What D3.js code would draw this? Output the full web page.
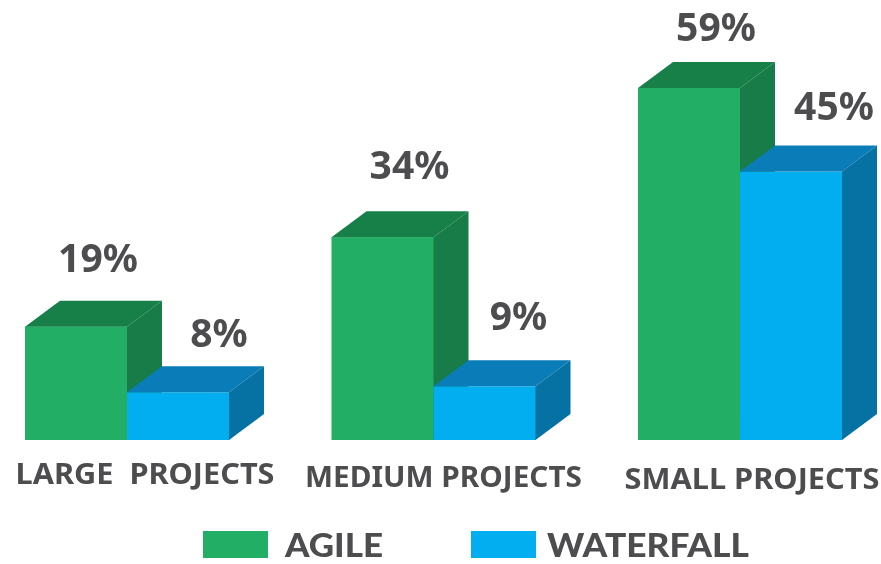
<!DOCTYPE html>
<html>
<head>
<meta charset="utf-8">
<script src="https://cdnjs.cloudflare.com/ajax/libs/d3/7.8.5/d3.min.js"></script>
<style>
    html, body { margin: 0; padding: 0; background: #fff; overflow: hidden; }
    svg { display: block; filter: blur(0.7px); }
    text { font-family: "Noto Sans", sans-serif; font-weight: 700; fill: #4d4d4f; }
</style>
</head>
<body>
<div id="chart"></div>
<script>
const categories = ["LARGE  PROJECTS", "MEDIUM PROJECTS", "SMALL PROJECTS"];
const seriesNames = ["AGILE", "WATERFALL"];
const agile = [19, 34, 59];
const waterfall = [8, 9, 45];

const width = 881, height = 564;
const baseline = 440;
const depth = { x: 35, y: 26 };

const colors = {
    AGILE: { front: "#22ae64", top: "#178048", side: "#177c47" },
    WATERFALL: { front: "#02aeef", top: "#0a7db9", side: "#0671a3" }
};

// hand nudges, the labels in the picture are not evenly placed
const catNudge = [[18, 32], [10, 35], [12, 37]];
const catWidth = [259, 277, 255];
const valNudge = {
    AGILE: [[22, -70], [27, -74], [27, -63]],
    WATERFALL: [[41, -61], [34, -72], [43, -67]]
};

const svg = d3.select("#chart").append("svg")
    .attr("width", width)
    .attr("height", height)
    .attr("viewBox", [0, 0, width, height]);

const x = d3.scaleBand()
    .domain(categories)
    .range([25, 842])
    .paddingInner(0.3344);

const xInner = d3.scaleBand()
    .domain(seriesNames)
    .range([0, x.bandwidth()]);

const y = d3.scaleLinear()
    .domain([0, 59])
    .range([baseline, 88]);

const rows = categories.flatMap((c, i) => [
    { cat: c, i: i, name: "AGILE", value: agile[i] },
    { cat: c, i: i, name: "WATERFALL", value: waterfall[i] }
]);

const barX = d => x(d.cat) + xInner(d.name);
const bw = xInner.bandwidth();

const bars = svg.append("g").selectAll("g")
    .data(rows)
    .join("g");

bars.append("rect")
    .attr("x", barX)
    .attr("y", d => y(d.value))
    .attr("width", bw + 0.5)
    .attr("height", d => baseline - y(d.value))
    .attr("fill", d => colors[d.name].front);

// top face
bars.append("path")
    .attr("fill", d => colors[d.name].top)
    .attr("d", d => {
        const x0 = barX(d), y0 = y(d.value);
        return d3.line()([
            [x0, y0], [x0 + depth.x, y0 - depth.y],
            [x0 + bw + depth.x, y0 - depth.y], [x0 + bw, y0]
        ]) + "Z";
    });

// side face
bars.append("path")
    .attr("fill", d => colors[d.name].side)
    .attr("d", d => {
        const x1 = barX(d) + bw, y0 = y(d.value);
        return d3.line()([
            [x1, y0], [x1 + depth.x, y0 - depth.y],
            [x1 + depth.x, baseline - depth.y], [x1, baseline]
        ]) + "Z";
    });

bars.append("text")
    .attr("text-anchor", "middle")
    .attr("dominant-baseline", "central")
    .attr("font-size", 39)
    .attr("x", d => barX(d) + bw / 2 + valNudge[d.name][d.i][0])
    .attr("y", d => y(d.value) + valNudge[d.name][d.i][1])
    .text(d => d.value + "%");

svg.append("g").selectAll("text")
    .data(categories)
    .join("text")
    .attr("text-anchor", "middle")
    .attr("dominant-baseline", "central")
    .style("white-space", "pre")
    .attr("font-size", 29)
    .attr("textLength", (d, i) => catWidth[i])
    .attr("lengthAdjust", "spacingAndGlyphs")
    .attr("x", (d, i) => x(d) + x.bandwidth() / 2 + catNudge[i][0])
    .attr("y", (d, i) => baseline + catNudge[i][1])
    .text(d => d);

// legend
const legendX = d3.scaleOrdinal().domain(seriesNames).range([203, 471]);
const legendTextX = [82, 76];
const legendTextW = [98, 202];
const legend = svg.append("g").selectAll("g")
    .data(seriesNames)
    .join("g")
    .attr("transform", d => `translate(${legendX(d)},531)`);

legend.append("rect")
    .attr("width", 65)
    .attr("height", 27)
    .attr("fill", d => colors[d].front);

// Lato here, its box is short enough to stay inside the page
legend.append("text")
    .style("font-family", "Lato, sans-serif")
    .style("font-weight", 900)
    .attr("x", (d, i) => legendTextX[i])
    .attr("y", 26)
    .attr("font-size", 32)
    .attr("textLength", (d, i) => legendTextW[i])
    .attr("lengthAdjust", "spacingAndGlyphs")
    .text(d => d);
</script>
</body>
</html>
